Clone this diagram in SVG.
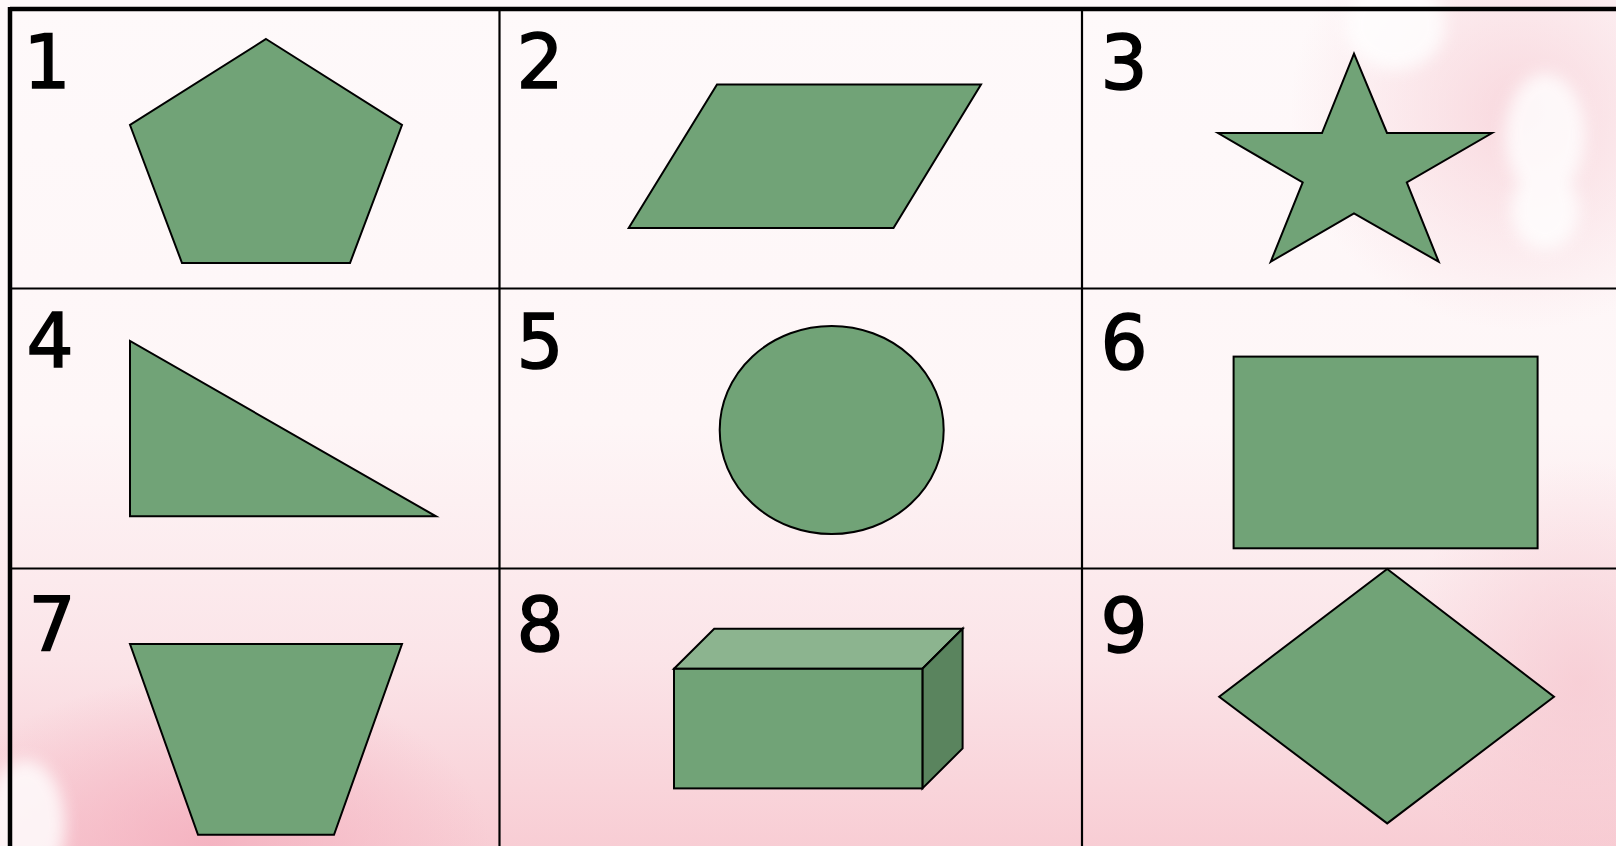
<svg xmlns="http://www.w3.org/2000/svg" width="1616" height="846" viewBox="0 0 1616 846">
<style>
.shape{fill:#71A377;stroke:#000;stroke-width:2;stroke-linejoin:miter}
.num{font-family:"DejaVu Sans","Noto Sans",sans-serif;font-size:74px;fill:#000;stroke:#000;stroke-width:1.6;text-anchor:middle}
.thin{stroke:#000;stroke-width:2.2;fill:none}
.thick{stroke:#000;stroke-width:4.5;fill:none}
</style>
<defs>
<linearGradient id="bg" x1="0" y1="0" x2="0" y2="1">
<stop offset="0" stop-color="#FEF9FA"/>
<stop offset="0.5" stop-color="#FEF6F7"/>
<stop offset="0.78" stop-color="#FBE4E8"/>
<stop offset="1" stop-color="#F8CDD4"/>
</linearGradient>
<radialGradient id="pinkR" cx="0.5" cy="0.5" r="0.5">
<stop offset="0" stop-color="#F5C3CC" stop-opacity="0.6"/>
<stop offset="1" stop-color="#F5C3CC" stop-opacity="0"/>
</radialGradient>
<radialGradient id="pinkBL" cx="0.5" cy="0.5" r="0.5">
<stop offset="0" stop-color="#F4AFBE" stop-opacity="0.85"/>
<stop offset="1" stop-color="#F4AFBE" stop-opacity="0"/>
</radialGradient>
<filter id="blur" x="-50%" y="-50%" width="200%" height="200%"><feGaussianBlur stdDeviation="8"/></filter>
</defs>
<g id="background">
<rect x="0" y="0" width="1616" height="846" fill="url(#bg)"/>
<ellipse cx="1520" cy="110" rx="230" ry="220" fill="url(#pinkR)"/>
<ellipse cx="1580" cy="680" rx="180" ry="220" fill="url(#pinkR)"/>
<ellipse cx="210" cy="846" rx="280" ry="170" fill="url(#pinkBL)"/>
<g fill="#FFFFFF" filter="url(#blur)" opacity="0.8">
<ellipse cx="1395" cy="25" rx="50" ry="45"/>
<ellipse cx="1545" cy="135" rx="40" ry="62"/>
<ellipse cx="1545" cy="210" rx="34" ry="40"/>
<ellipse cx="25" cy="825" rx="40" ry="65"/>
</g>
</g>
<g id="grid">
<line class="thick" x1="10" y1="9" x2="1616" y2="9"/>
<line class="thick" x1="10" y1="7" x2="10" y2="846"/>
<line class="thin" x1="499.5" y1="9" x2="499.5" y2="846"/>
<line class="thin" x1="1082" y1="9" x2="1082" y2="846"/>
<line class="thin" x1="10" y1="288.5" x2="1616" y2="288.5"/>
<line class="thin" x1="10" y1="568.5" x2="1616" y2="568.5"/>
</g>
<g id="cell1">
<text class="num" x="47" y="88">1</text>
<polygon class="shape" points="266,39 402,125 350,263 182,263 130,125"/>
</g>
<g id="cell2">
<text class="num" x="540" y="88">2</text>
<polygon class="shape" points="717,84.5 981,84.5 893.5,228 628.7,228"/>
</g>
<g id="cell3">
<text class="num" x="1124" y="89">3</text>
<polygon class="shape" points="1354,53.6 1387,133 1492,133 1406.8,182.4 1438.7,261.8 1354,213.3 1270.7,261.8 1302.7,182.4 1218,133 1322,133"/>
</g>
<g id="cell4">
<text class="num" x="50" y="367">4</text>
<polygon class="shape" points="130,341 130,516.3 436,516.3"/>
</g>
<g id="cell5">
<text class="num" x="540" y="368">5</text>
<ellipse class="shape" cx="831.7" cy="430" rx="112" ry="104"/>
</g>
<g id="cell6">
<text class="num" x="1124" y="369">6</text>
<rect class="shape" x="1233.6" y="356.6" width="304" height="191.7"/>
</g>
<g id="cell7">
<text class="num" x="52" y="650">7</text>
<polygon class="shape" points="130,644 402,644 334,834.8 198,834.8"/>
</g>
<g id="cell8">
<text class="num" x="540" y="651">8</text>
<polygon class="shape" style="fill:#8CB48F" points="674,668.8 714.2,628.7 962.6,628.7 922.4,668.8"/>
<polygon class="shape" style="fill:#5A845E" points="922.4,668.8 962.6,628.7 962.6,748.4 922.4,788.4"/>
<rect class="shape" x="674" y="668.8" width="248.4" height="119.6"/>
</g>
<g id="cell9">
<text class="num" x="1124" y="652">9</text>
<polygon class="shape" points="1387.2,569 1554,696.7 1387.2,823.4 1219.2,696.7"/>
</g>
</svg>
